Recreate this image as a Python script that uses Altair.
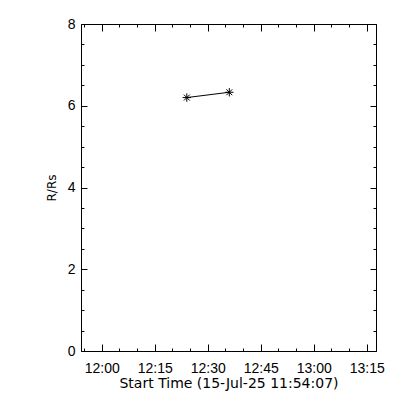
import altair as alt
import pandas as pd

# data
times = ["2025-07-15T12:24:04Z", "2025-07-15T12:36:06Z"]
radius = [6.20, 6.33]

# axis ranges and ticks
x_start = (11, 54, 7)
x_end = (13, 17, 37)
x_major = [(12, 0), (12, 15), (12, 30), (12, 45), (13, 0), (13, 15)]
x_minor = [(11, 55), (12, 0), (12, 5), (12, 10), (12, 15), (12, 20), (12, 25),
           (12, 30), (12, 35), (12, 40), (12, 45), (12, 50), (12, 55), (13, 0),
           (13, 5), (13, 10), (13, 15)]
y_major = [0, 2, 4, 6, 8]
y_minor = [0, 0.5, 1, 1.5, 2, 2.5, 3, 3.5, 4, 4.5, 5, 5.5, 6, 6.5, 7, 7.5, 8]
x_title = "Start Time (15-Jul-25 11:54:07)"
y_title = "R/Rs"


def dt(h, m, s=0):
    return alt.DateTime(year=2025, month=7, date=15, hours=h, minutes=m,
                        seconds=s, utc=True)


df = pd.DataFrame({"t": times, "r": radius})
base = alt.Chart(df)

common = dict(domain=False, grid=False, tickColor="black", tickWidth=1,
              labelColor="black", titleColor="black")


def xscale():
    return alt.Scale(type="utc", domain=[dt(*x_start), dt(*x_end)])


def yscale():
    return alt.Scale(domain=[0, 8], nice=False, zero=False)


def xaxis(orient, vals, size, labels, title):
    kw = dict(orient=orient, values=[dt(h, m) for h, m in vals], offset=-size,
              tickSize=size, labels=labels, **common)
    if labels:
        kw.update(format="%H:%M", labelPadding=10, labelFont="Liberation Sans",
                  labelFontSize=14, labelFlush=False, labelOverlap=False)
    if title:
        kw.update(title=title, titleFont="DejaVu Sans", titleFontSize=14,
                  titleFontWeight="normal", titlePadding=1)
    else:
        kw.update(title=None)
    return alt.Axis(**kw)


def yaxis(orient, vals, size, labels, title):
    kw = dict(orient=orient, values=vals, offset=-size, tickSize=size,
              labels=labels, **common)
    if labels:
        kw.update(format="d", labelPadding=6, labelFont="Liberation Sans",
                  labelFontSize=14, labelFlush=False, labelOverlap=False)
    if title:
        kw.update(title=title, titleFont="DejaVu Sans", titleFontSize=12,
                  titleFontWeight="normal", titlePadding=9)
    else:
        kw.update(title=None)
    return alt.Axis(**kw)


def enc(chart, xa, ya):
    return chart.encode(
        x=alt.X("t:T", scale=xscale(), axis=xa),
        y=alt.Y("r:Q", scale=yscale(), axis=ya),
    )


star = "M-1,0L1,0M0,-1L0,1M-0.7,-0.7L0.7,0.7M-0.7,0.7L0.7,-0.7"

l1 = enc(base.mark_line(color="black", strokeWidth=1),
         xaxis("bottom", x_major, 7, True, x_title),
         yaxis("left", y_major, 6, True, y_title))
l2 = enc(base.mark_point(shape=star, size=70, filled=False, color="black",
                         strokeWidth=1, opacity=1),
         xaxis("bottom", x_minor, 3, False, None),
         yaxis("left", y_minor, 3, False, None))
l3 = enc(base.mark_point(opacity=0),
         xaxis("top", x_major, 7, False, None),
         yaxis("right", y_major, 6, False, None))
l4 = enc(base.mark_point(opacity=0),
         xaxis("top", x_minor, 3, False, None),
         yaxis("right", y_minor, 3, False, None))

chart = (
    alt.layer(l1, l2, l3, l4)
    .resolve_scale(x="independent", y="independent")
    .resolve_axis(x="independent", y="independent")
    .properties(width=295, height=327,
                autosize=alt.AutoSizeParams(type="none"),
                padding={"left": 73, "top": 16, "right": 16, "bottom": 40},
                background="white")
    .configure_view(stroke="black", strokeWidth=1)
)

chart.save("out.html", embed_options={"renderer": "svg", "actions": False})
